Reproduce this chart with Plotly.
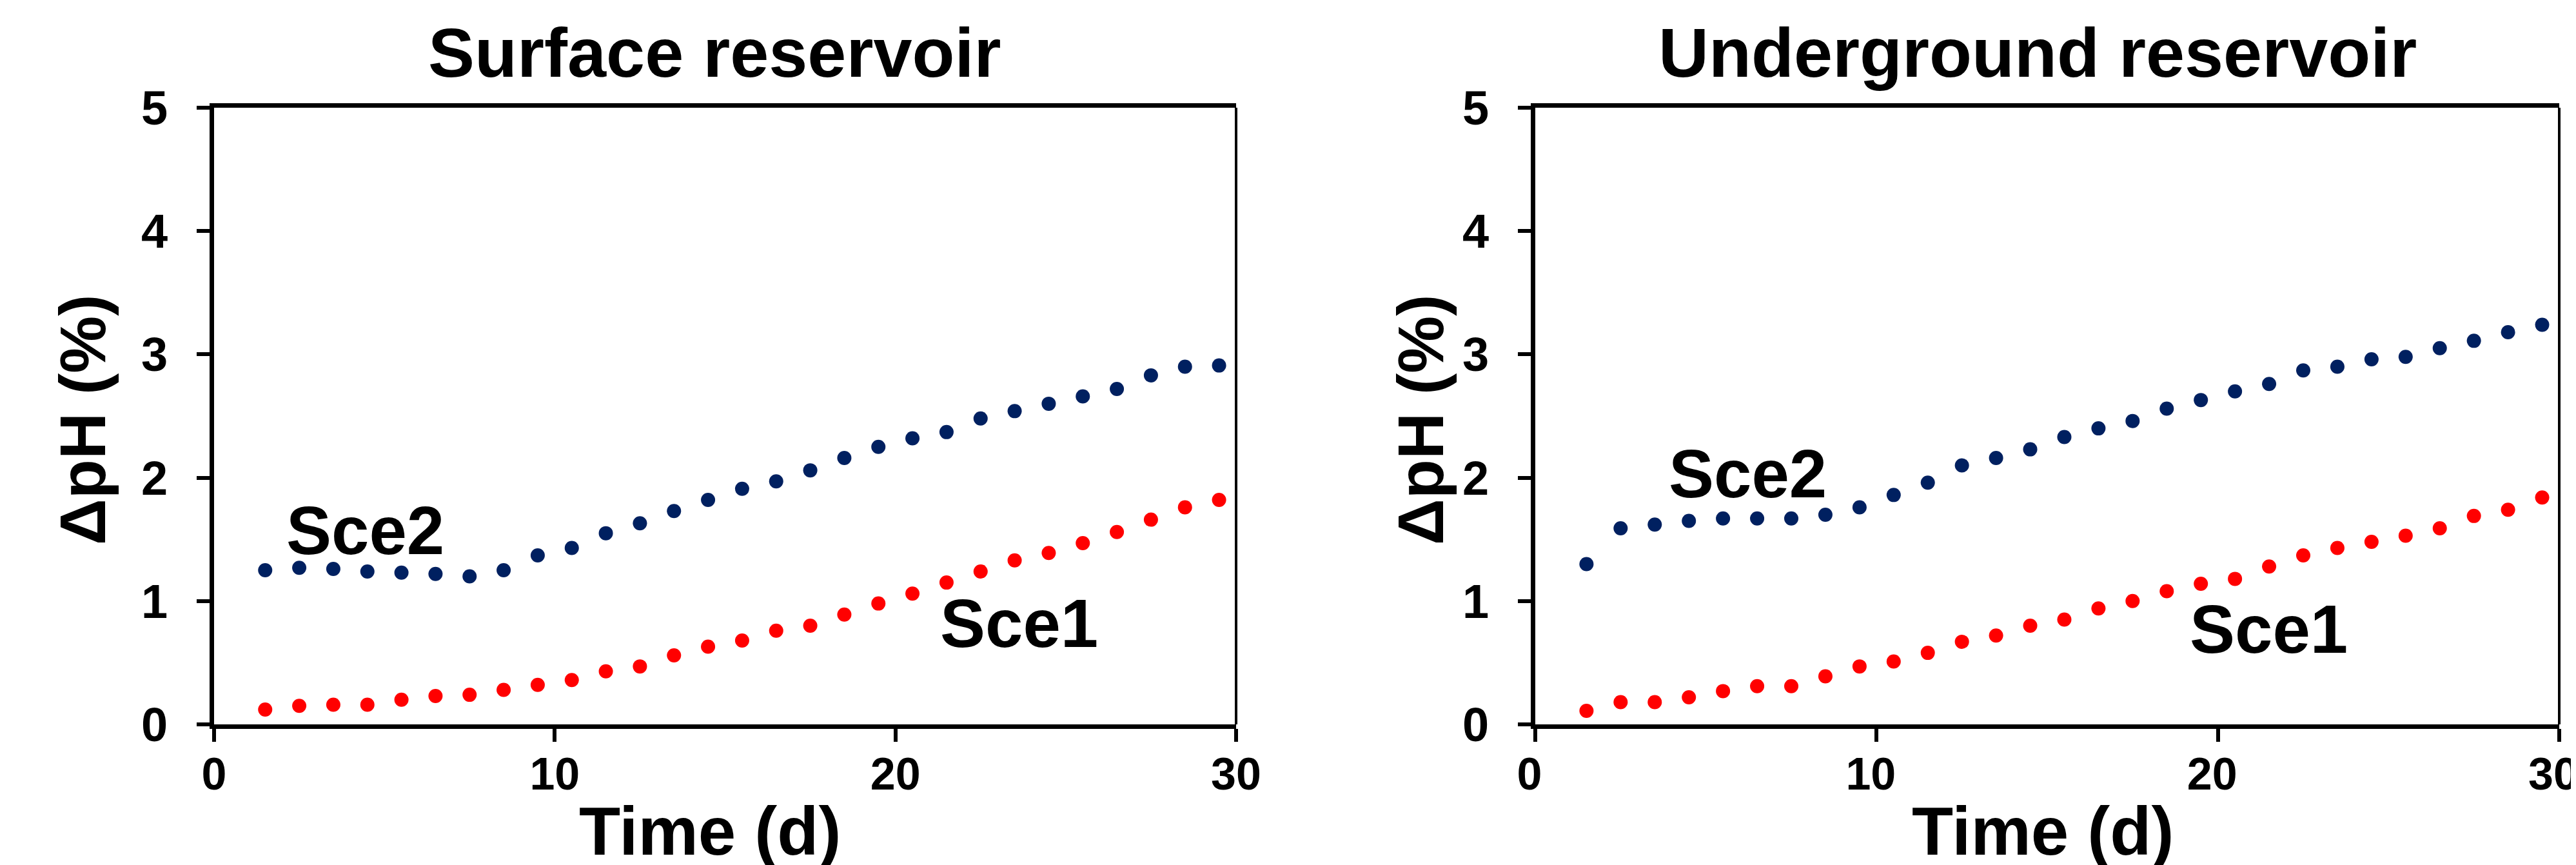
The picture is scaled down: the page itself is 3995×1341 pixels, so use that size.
import plotly.graph_objects as go

# ---------------- data ----------------
time_d = [1.5, 2.5, 3.5, 4.5, 5.5, 6.5, 7.5, 8.5, 9.5, 10.5, 11.5, 12.5, 13.5, 14.5, 15.5,
          16.5, 17.5, 18.5, 19.5, 20.5, 21.5, 22.5, 23.5, 24.5, 25.5, 26.5, 27.5, 28.5, 29.5]

surface_sce1 = [0.12, 0.15, 0.16, 0.16, 0.20, 0.23, 0.24, 0.28, 0.32, 0.36, 0.43, 0.47, 0.56, 0.63, 0.68,
                0.76, 0.80, 0.89, 0.98, 1.06, 1.15, 1.24, 1.33, 1.39, 1.47, 1.56, 1.66, 1.76, 1.82]
surface_sce2 = [1.25, 1.27, 1.26, 1.24, 1.23, 1.22, 1.20, 1.25, 1.37, 1.43, 1.55, 1.63, 1.73, 1.82, 1.91,
                1.97, 2.06, 2.16, 2.25, 2.32, 2.37, 2.48, 2.54, 2.60, 2.66, 2.72, 2.83, 2.90, 2.91]

under_sce1 = [0.11, 0.18, 0.18, 0.22, 0.27, 0.31, 0.31, 0.39, 0.47, 0.51, 0.58, 0.67, 0.72, 0.80, 0.85,
              0.94, 1.00, 1.08, 1.14, 1.18, 1.28, 1.37, 1.43, 1.48, 1.53, 1.59, 1.69, 1.74, 1.84]
under_sce2 = [1.30, 1.59, 1.62, 1.65, 1.67, 1.67, 1.67, 1.70, 1.76, 1.86, 1.96, 2.10, 2.16, 2.23, 2.33,
              2.40, 2.46, 2.56, 2.63, 2.70, 2.76, 2.87, 2.90, 2.96, 2.98, 3.05, 3.11, 3.18, 3.24]

panel_titles = ["Surface reservoir", "Underground reservoir"]
x_title = "Time (d)"
y_title = "ΔpH (%)"
series_names = ["Sce1", "Sce2"]
x_ticks = [0, 10, 20, 30]
y_ticks = [0, 1, 2, 3, 4, 5]

# ---------------- styling ----------------
W, H = 3995, 1341
FONT = "Liberation Sans, Arial, sans-serif"
RED = "#FF0000"
NAVY = "#002060"
MSIZE = 22

def px(v):  # horizontal pixel -> paper
    return v / W

def py(v):  # vertical pixel (from top) -> paper
    return 1 - v / H

x1_dom = [px(324), px(1909)]
x2_dom = [px(2373), px(3961)]
y_dom = [py(1115), py(159)]

fig = go.Figure()

panels = [
    (surface_sce1, surface_sce2, "x", "y"),
    (under_sce1, under_sce2, "x2", "y2"),
]
for s1, s2, xa, ya in panels:
    fig.add_trace(go.Scatter(x=time_d, y=s2, mode="markers", name=series_names[1],
                             marker=dict(color=NAVY, size=MSIZE), xaxis=xa, yaxis=ya,
                             cliponaxis=False, showlegend=False))
    fig.add_trace(go.Scatter(x=time_d, y=s1, mode="markers", name=series_names[0],
                             marker=dict(color=RED, size=MSIZE), xaxis=xa, yaxis=ya,
                             cliponaxis=False, showlegend=False))

ytickfont = dict(family=FONT, size=74, color="black", weight="bold")
xtickfont = dict(family=FONT, size=70, color="black", weight="bold")

def xaxis(dom, anchor, shift):
    return dict(domain=dom, anchor=anchor, range=[0, 30], tickvals=x_ticks,
                showgrid=False, zeroline=False, showline=True, linewidth=7, linecolor="black",
                mirror=True, ticks="outside", ticklen=20, tickwidth=6, tickcolor="black",
                tickfont=xtickfont, ticklabelstandoff=-10, ticklabelshift=shift,
                ticklabeloverflow="allow", fixedrange=True, automargin=False)

def yaxis(anchor):
    return dict(domain=y_dom, anchor=anchor, range=[0, 5], tickvals=y_ticks,
                showgrid=False, zeroline=False, showline=True, linewidth=7, linecolor="black",
                mirror=False, ticks="outside", ticklen=20, tickwidth=6, tickcolor="black",
                tickfont=ytickfont, ticklabelstandoff=30, ticklabeloverflow="allow",
                fixedrange=True, automargin=False)

annotations = []
big = dict(family=FONT, size=108, color="black", weight="bold")
# panel titles
for cx, t in [(1100, panel_titles[0]), (3152, panel_titles[1])]:
    annotations.append(dict(text=t, x=px(cx), y=py(74), xref="paper", yref="paper",
                            xanchor="center", yanchor="middle", showarrow=False, font=big))
# x titles
for cx in [1093, 3160]:
    annotations.append(dict(text=x_title, x=px(cx), y=py(1280), xref="paper", yref="paper",
                            xanchor="center", yanchor="middle", showarrow=False,
                            font=dict(family=FONT, size=105, color="black", weight="bold")))
# y titles
for cx in [120, 2195]:
    annotations.append(dict(text=y_title, x=px(cx), y=py(643), xref="paper", yref="paper",
                            xanchor="center", yanchor="middle", textangle=-90, showarrow=False,
                            font=dict(family=FONT, size=100, color="black", weight="bold")))
# series labels
lab = dict(family=FONT, size=105, color="black", weight="bold")
for (xx, yy, t, xr, yr) in [(4.43, 1.57, "Sce2", "x", "y"), (23.64, 0.82, "Sce1", "x", "y"),
                            (6.23, 2.03, "Sce2", "x2", "y2"), (21.48, 0.77, "Sce1", "x2", "y2")]:
    annotations.append(dict(text=t, x=xx, y=yy, xref=xr, yref=yr, xanchor="center",
                            yanchor="middle", showarrow=False, font=lab))

shapes = []
for xr, yr in [("x domain", "y domain"), ("x2 domain", "y2 domain")]:
    shapes.append(dict(type="line", xref=xr, yref=yr, x0=1, x1=1, y0=0, y1=1,
                       line=dict(color="black", width=4)))

fig.update_layout(
    width=W, height=H,
    margin=dict(l=0, r=0, t=0, b=0, pad=0, autoexpand=False),
    paper_bgcolor="white", plot_bgcolor="white",
    xaxis=xaxis(x1_dom, "y", 0), yaxis=yaxis("x"),
    xaxis2=xaxis(x2_dom, "y2", -9), yaxis2=yaxis("x2"),
    annotations=annotations, shapes=shapes,
    showlegend=False,
)
fig.write_html("out.html")
